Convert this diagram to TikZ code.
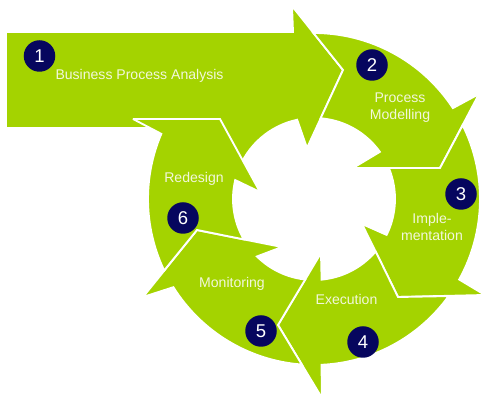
\documentclass[tikz,border=0pt]{standalone}
\usepackage{fontspec}
\setmainfont{Liberation Sans}
\usetikzlibrary{calc}
\definecolor{lime}{HTML}{A4D300}
\definecolor{navy}{HTML}{06065E}
\definecolor{cream}{HTML}{F2F7DC}
\newcommand\rout{166}
\newcommand\rin{81}
\tikzset{
  seg/.style ={fill=lime,draw=white,line width=1.6pt,miter limit=4},
  num/.style ={circle,fill=navy,text=white,minimum size=.945cm,inner sep=0pt,
               font=\fontsize{15.8}{18}\selectfont},
  lbl/.style ={text=cream,font=\fontsize{12}{14.5}\selectfont,align=center,inner sep=0pt},
}
\begin{document}
\begin{tikzpicture}[x=0.03cm,y=-0.03cm]
  \useasboundingbox (0,0) rectangle (500,405);
  \coordinate (C) at (314,199);

  % 1: straight arrow into the ring
  \draw[seg] (6,32) -- (293,32) -- (292,6) -- (343,70) -- (307,148)
        -- ($(C)+(-102:\rin)$) arc[start angle=-102,end angle=-160,radius=\rin]
        -- (200,128) -- (6,128) -- cycle;

  % 2..6: ring segments
  \draw[seg] (343,70) -- ($(C)+(-90.2:\rout)$) arc[start angle=-90.2,end angle=-33.2,radius=\rout]
        -- (479,94) -- (440,168) -- (353,168)
        -- ($(C)+(-35.6:\rin)$) arc[start angle=-35.6,end angle=-85.3,radius=\rin] -- cycle;
  \draw[seg] (440,168) -- ($(C)+(-26.4:\rout)$) arc[start angle=-26.4,end angle=29,radius=\rout]
        -- (485,295) -- (398,297) -- (362,224)
        -- ($(C)+(26.3:\rin)$) arc[start angle=26.3,end angle=-22.5,radius=\rin] -- cycle;
  \draw[seg] (398,297) -- ($(C)+(35.8:\rout)$) arc[start angle=35.8,end angle=87.4,radius=\rout]
        -- (322,398) -- (278,325) -- (321,253)
        -- ($(C)+(84.6:\rin)$) arc[start angle=84.6,end angle=40.4,radius=\rin] -- cycle;
  \draw[seg] (278,325) -- ($(C)+(94.2:\rout)$) arc[start angle=94.2,end angle=147.9,radius=\rout]
        -- (143,297) -- (197,230) -- (282,247)
        -- ($(C)+(134.8:\rin)$) arc[start angle=134.8,end angle=96.2,radius=\rin] -- cycle;
  \draw[seg] (197,230) -- ($(C)+(154.5:\rout)$) arc[start angle=154.5,end angle=203.1,radius=\rout]
        -- (133,119) -- (220,119) -- (260,192)
        -- ($(C)+(193.5:\rin)$) arc[start angle=193.5,end angle=150.1,radius=\rin] -- cycle;

  % step numbers
  \node[num] (n1) at (39.5,56) {1};
  \node[num] (n2) at (372,65) {2};
  \node[num] (n3) at (461,194) {3};
  \node[num] (n4) at (363,342) {4};
  \node[num] (n5) at (261,331) {5};
  \node[num] (n6) at (183,218) {6};

  % labels
  \node[lbl,anchor=base] (l1) at (139.5,80) {Business Process Analysis};
  \node[lbl] (l2) at (400,107.5) {Process\\Modelling};
  \node[lbl] (l3) at (432,226.5) {Imple-\\mentation};
  \node[lbl,anchor=base] (l4) at (346.5,305) {Execution};
  \node[lbl,anchor=base] (l5) at (232,287.5) {Monitoring};
  \node[lbl,anchor=base] (l6) at (194,182.5) {Redesign};
\end{tikzpicture}
\end{document}
